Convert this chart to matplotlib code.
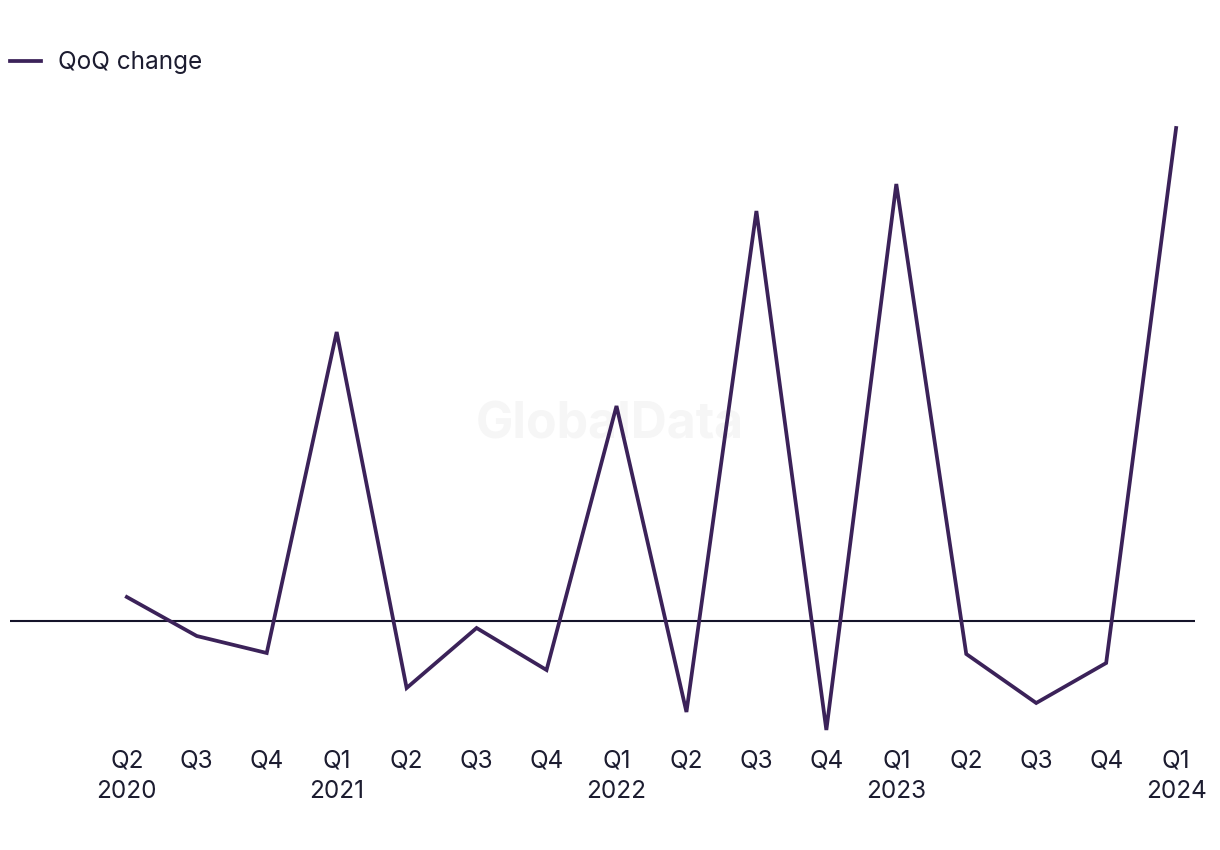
import matplotlib.pyplot as plt

# quarterly QoQ change (relative units)
quarters = ["Q2\n2020", "Q3", "Q4", "Q1\n2021", "Q2", "Q3", "Q4", "Q1\n2022",
            "Q2", "Q3", "Q4", "Q1\n2023", "Q2", "Q3", "Q4", "Q1\n2024"]
qoq_change = [2.4, -1.5, -3.2, 28.9, -6.7, -0.7, -4.9, 21.5,
              -9.1, 41.0, -10.9, 43.7, -3.3, -8.2, -4.2, 49.3]

line_color = "#3b2259"
text_color = "#1c1c30"

plt.rcParams['font.family'] = ['Inter', 'DejaVu Sans']

fig = plt.figure(figsize=(12.2, 8.5), dpi=100)
ax = fig.add_axes([10 / 1220, 1 - 740 / 850, 1185 / 1220, 630 / 850])

x = list(range(len(quarters)))
ax.plot(x, qoq_change, color=line_color, linewidth=2.7, zorder=3, label="QoQ change",
        solid_joinstyle="miter")
ax.axhline(0, color="#15142a", linewidth=1.5, zorder=2)

ax.text(610 / 1220, 1 - 425 / 850, "GlobalData", transform=fig.transFigure,
        ha="center", va="center", fontsize=36, fontweight="bold", color="#f6f6f6",
        zorder=1)

ax.set_xlim(-1.67, len(quarters) - 1 + 0.27)
ax.set_ylim(-11.9, 51.1)
ax.set_xticks(x)
ax.set_xticklabels(quarters, fontsize=17.5, color=text_color, linespacing=1.4)
ax.tick_params(axis="x", length=0, pad=7)
ax.set_yticks([])
for s in ax.spines.values():
    s.set_visible(False)

fig.legend(loc="center left", bbox_to_anchor=(10 / 1220, 1 - 63 / 850), frameon=False,
           fontsize=17.5, labelcolor=text_color, handlelength=1.28, handletextpad=0.7,
           borderaxespad=0, borderpad=0)

fig.savefig("out.png", dpi=100)
